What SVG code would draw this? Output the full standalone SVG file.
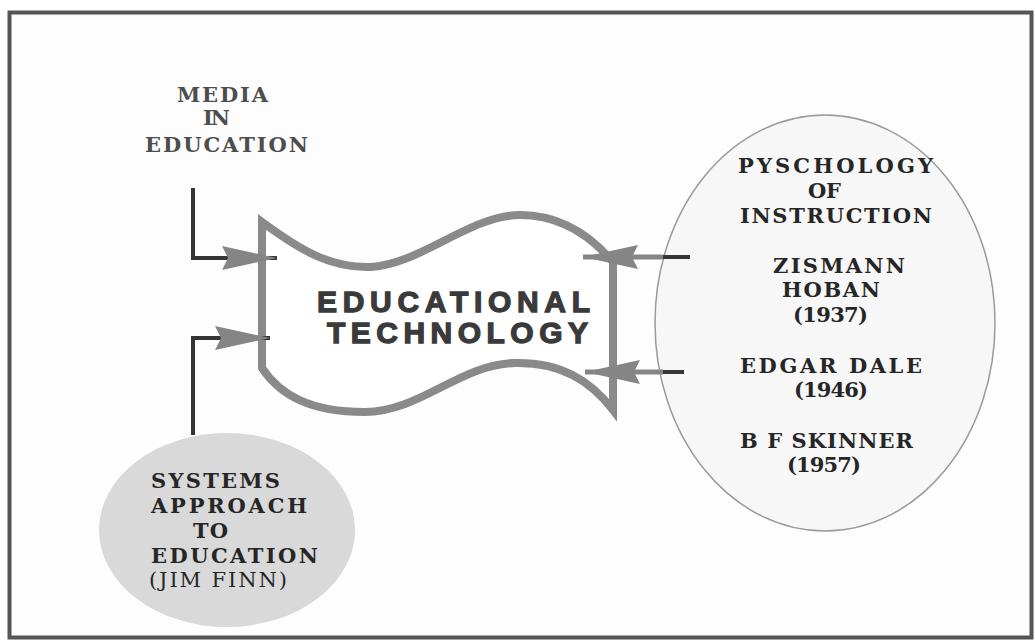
<svg xmlns="http://www.w3.org/2000/svg" width="1035" height="643" viewBox="0 0 1035 643">
<style>
.serif{font-family:"DejaVu Serif","Liberation Serif",serif;font-weight:bold;font-size:21px;fill:#262626}
.grey{fill:#4d4d4d;font-size:21px}
.sans{font-family:"Liberation Sans",Arial,sans-serif;font-weight:bold;font-size:30px;fill:#3a3a3a;stroke:#3a3a3a;stroke-width:1.3}
.dark{fill:none;stroke:#353535;stroke-width:4}
.gshaft{fill:none;stroke:#858585;stroke-width:5}
</style>
<defs>
<marker id="ah" markerUnits="userSpaceOnUse" viewBox="0 0 55 24" markerWidth="55" markerHeight="24" refX="55" refY="12" orient="auto">
<path d="M0,0 L55,12 L0,24 L6,12 Z" fill="#858585"/>
</marker>
</defs>
<rect x="0" y="0" width="1035" height="643" fill="#ffffff"/>
<rect x="9.5" y="12.5" width="1022" height="625" fill="#fdfdfd" stroke="#555" stroke-width="4"/>

<g id="media">
<text class="serif grey" x="177" y="102" textLength="91" lengthAdjust="spacing">MEDIA</text>
<text class="serif grey" x="203" y="125" textLength="27" lengthAdjust="spacing">IN</text>
<text class="serif grey" x="145" y="152" textLength="163" lengthAdjust="spacing">EDUCATION</text>
</g>

<g id="edtech">
<path d="M262 222 C300 250,330 268,370 267 C420 265,470 215,520 215 C560 215,590 235,613 262 L613 410 C590 380,560 362,515 363 C460 364,420 412,365 412 C310 412,280 395,262 368 Z" fill="#ffffff" stroke="#8a8a8a" stroke-width="8"/>
<text class="sans" x="317" y="312" textLength="273" lengthAdjust="spacing">EDUCATIONAL</text>
<text class="sans" x="327" y="343" textLength="261" lengthAdjust="spacing">TECHNOLOGY</text>
</g>

<g id="psychology">
<ellipse cx="825" cy="323" rx="170" ry="208" fill="#f7f7f7" stroke="#9a9a9a" stroke-width="1.5"/>
<text class="serif" x="738" y="173" textLength="195" lengthAdjust="spacing" fill="#444">PYSCHOLOGY</text>
<text class="serif" x="808" y="198" textLength="33" lengthAdjust="spacing">OF</text>
<text class="serif" x="740" y="223" textLength="192" lengthAdjust="spacing">INSTRUCTION</text>
<text class="serif" x="773" y="273" textLength="132" lengthAdjust="spacing">ZISMANN</text>
<text class="serif" x="782" y="297" textLength="98" lengthAdjust="spacing">HOBAN</text>
<text class="serif" x="793" y="322" textLength="75" lengthAdjust="spacing">(1937)</text>
<text class="serif" x="740" y="373" textLength="182" lengthAdjust="spacing">EDGAR DALE</text>
<text class="serif" x="794" y="397" textLength="74" lengthAdjust="spacing">(1946)</text>
<text class="serif" x="740" y="448" textLength="173" lengthAdjust="spacing">B F SKINNER</text>
<text class="serif" x="787" y="472" textLength="74" lengthAdjust="spacing">(1957)</text>
</g>

<g id="systems">
<ellipse cx="227" cy="530" rx="128" ry="97" fill="#d9d9d9"/>
<text class="serif" x="151" y="488" textLength="129" lengthAdjust="spacing">SYSTEMS</text>
<text class="serif" x="151" y="513" textLength="156" lengthAdjust="spacing">APPROACH</text>
<text class="serif" x="193" y="538" textLength="35" lengthAdjust="spacing">TO</text>
<text class="serif" x="151" y="563" textLength="167" lengthAdjust="spacing">EDUCATION</text>
<text class="serif" x="149" y="587" textLength="138" lengthAdjust="spacing" style="font-weight:normal">(JIM FINN)</text>
</g>

<g id="connectors">
<path class="dark" d="M193 188 V258 H277" marker-end="url(#ah)"/>
<path class="dark" d="M193 435 V338 H270" marker-end="url(#ah)"/>
<path class="dark" d="M690 257 H660"/>
<path class="gshaft" d="M663 257 H583" marker-end="url(#ah)"/>
<path class="dark" d="M684 372 H660"/>
<path class="gshaft" d="M663 372 H585" marker-end="url(#ah)"/>
</g>
</svg>
